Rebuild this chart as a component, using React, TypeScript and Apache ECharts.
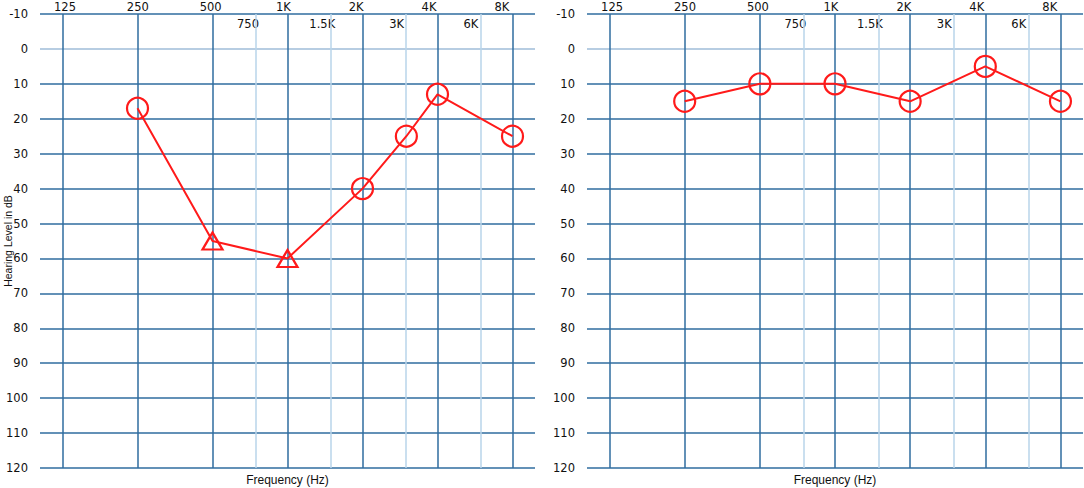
import React, { useEffect, useRef } from "react";
import * as echarts from "echarts";

const MAIN_FREQS = [125, 250, 500, 1000, 2000, 4000, 8000];
const MAIN_LABELS = ["125", "250", "500", "1K", "2K", "4K", "8K"];
const MINOR_FREQS = [750, 1500, 3000, 6000];
const MINOR_LABELS = ["750", "1.5K", "3K", "6K"];

const LEFT_FREQ = [250, 500, 1000, 2000, 3000, 4000, 8000];
const LEFT_DB = [17, 55, 60, 40, 25, 13, 25];
const LEFT_SYMBOL = ["circle", "triangle", "triangle", "circle", "circle", "circle", "circle"];

const RIGHT_FREQ = [250, 500, 1000, 2000, 4000, 8000];
const RIGHT_DB = [15, 10, 10, 15, 5, 15];
const RIGHT_SYMBOL = ["circle", "circle", "circle", "circle", "circle", "circle"];

const DB_MIN = -10;
const DB_MAX = 120;

const oct = (f: number) => Math.log2(f / 125);

const DARK = "#2f6c9f";
const LIGHT = "#b9d4ea";
const ZERO = "#9fbdd8";
const RED = "#ff1a1a";
const LABEL_FONT = "DejaVu Sans, Verdana, sans-serif";
const NAME_FONT = "Liberation Sans, Arial, sans-serif";

export default function App() {
  const ref = useRef<HTMLDivElement>(null);

  useEffect(() => {
    if (!ref.current) return;
    const chart = echarts.init(ref.current, null, { renderer: "svg" });

    const grids = [
      { left: 40, top: 14, width: 495, height: 454, containLabel: false, outerBoundsMode: "none" },
      { left: 587, top: 14, width: 496, height: 454, containLabel: false, outerBoundsMode: "none" },
    ];

    const xAxis: any[] = [];
    const yAxis: any[] = [];
    const series: any[] = [];

    const hColors: string[] = [];
    for (let v = DB_MIN; v <= DB_MAX; v += 10) hColors.push(v === 0 ? ZERO : DARK);

    const sets = [
      { freq: LEFT_FREQ, db: LEFT_DB, sym: LEFT_SYMBOL, yName: "Hearing Level in dB" },
      { freq: RIGHT_FREQ, db: RIGHT_DB, sym: RIGHT_SYMBOL, yName: "" },
    ];

    sets.forEach((s, g) => {
      xAxis.push({
        type: "value",
        gridIndex: g,
        min: -0.3,
        max: 6.3,
        position: "bottom",
        axisLine: { show: false },
        axisTick: { show: false },
        axisLabel: { show: false },
        splitLine: { show: false },
        name: "Frequency (Hz)",
        nameLocation: "middle",
        nameGap: 6,
        nameMoveOverlap: false,
        nameTextStyle: { fontFamily: NAME_FONT, fontSize: 12, color: "#111" },
      });
      xAxis.push({
        type: "value",
        gridIndex: g,
        min: -25 / 72.8,
        max: 470 / 72.8,
        position: "top",
        axisLine: { show: false },
        axisTick: { show: false },
        splitLine: { show: false },
        axisLabel: {
          customValues: MAIN_FREQS.map((_, i) => i),
          formatter: (v: number) => MAIN_LABELS[Math.round(v)] ?? "",
          margin: 1,
          fontFamily: LABEL_FONT,
          fontSize: 11.5,
          color: "#111",
        },
      });
      xAxis.push({
        type: "value",
        gridIndex: g,
        min: -15.9 / 74.3,
        max: 479.1 / 74.3,
        position: "top",
        axisLine: { show: false },
        axisTick: { show: false },
        splitLine: { show: false },
        axisLabel: {
          inside: true,
          customValues: MINOR_FREQS.map(oct),
          formatter: (v: number) => {
            const i = MINOR_FREQS.findIndex((f) => Math.abs(oct(f) - v) < 0.01);
            return i >= 0 ? MINOR_LABELS[i] : "";
          },
          margin: 4,
          fontFamily: LABEL_FONT,
          fontSize: 11.5,
          color: "#111",
        },
      });

      yAxis.push({
        type: "value",
        gridIndex: g,
        inverse: true,
        min: DB_MIN,
        max: DB_MAX,
        interval: 10,
        axisLine: { show: false },
        axisTick: { show: false },
        axisLabel: { margin: 12, fontFamily: LABEL_FONT, fontSize: 11.5, color: "#111" },
        splitLine: { show: true, lineStyle: { color: hColors, width: 1.5 } },
        name: s.yName,
        nameLocation: "middle",
        nameGap: 27,
        nameMoveOverlap: false,
        nameTextStyle: { fontFamily: NAME_FONT, fontSize: 10.5, color: "#111" },
      });

      const xi = g * 3;
      const pts = s.freq.map((f, i) => [oct(f), s.db[i]]);

      series.push({
        type: "line",
        xAxisIndex: xi,
        yAxisIndex: g,
        data: pts,
        showSymbol: false,
        symbol: "none",
        lineStyle: { width: 0, opacity: 0 },
        silent: true,
        z: 1,
        markLine: {
          silent: true,
          symbol: "none",
          label: { show: false },
          animation: false,
          data: [
            ...MINOR_FREQS.map((f) => ({ xAxis: oct(f), lineStyle: { color: LIGHT, width: 1.5, type: "solid" } })),
            ...MAIN_FREQS.map((f) => ({ xAxis: oct(f), lineStyle: { color: DARK, width: 1.5, type: "solid" } })),
          ],
        },
      });

      series.push({
        type: "line",
        xAxisIndex: xi,
        yAxisIndex: g,
        z: 5,
        data: pts.map((p, i) => ({
          value: p,
          symbol: s.sym[i],
          symbolSize: s.sym[i] === "triangle" ? [20, 17] : 21,
        })),
        lineStyle: { color: RED, width: 2 },
        itemStyle: { color: "rgba(0,0,0,0)", borderColor: RED, borderWidth: 2.2 },
        showAllSymbol: true,
      });
    });

    chart.setOption({
      animation: false,
      backgroundColor: "#ffffff",
      grid: grids,
      xAxis,
      yAxis,
      series,
    });

    return () => chart.dispose();
  }, []);

  return (
    <div
      ref={ref}
      style={{ position: "fixed", left: 0, top: 0, width: 1084, height: 488, background: "#fff" }}
    />
  );
}
